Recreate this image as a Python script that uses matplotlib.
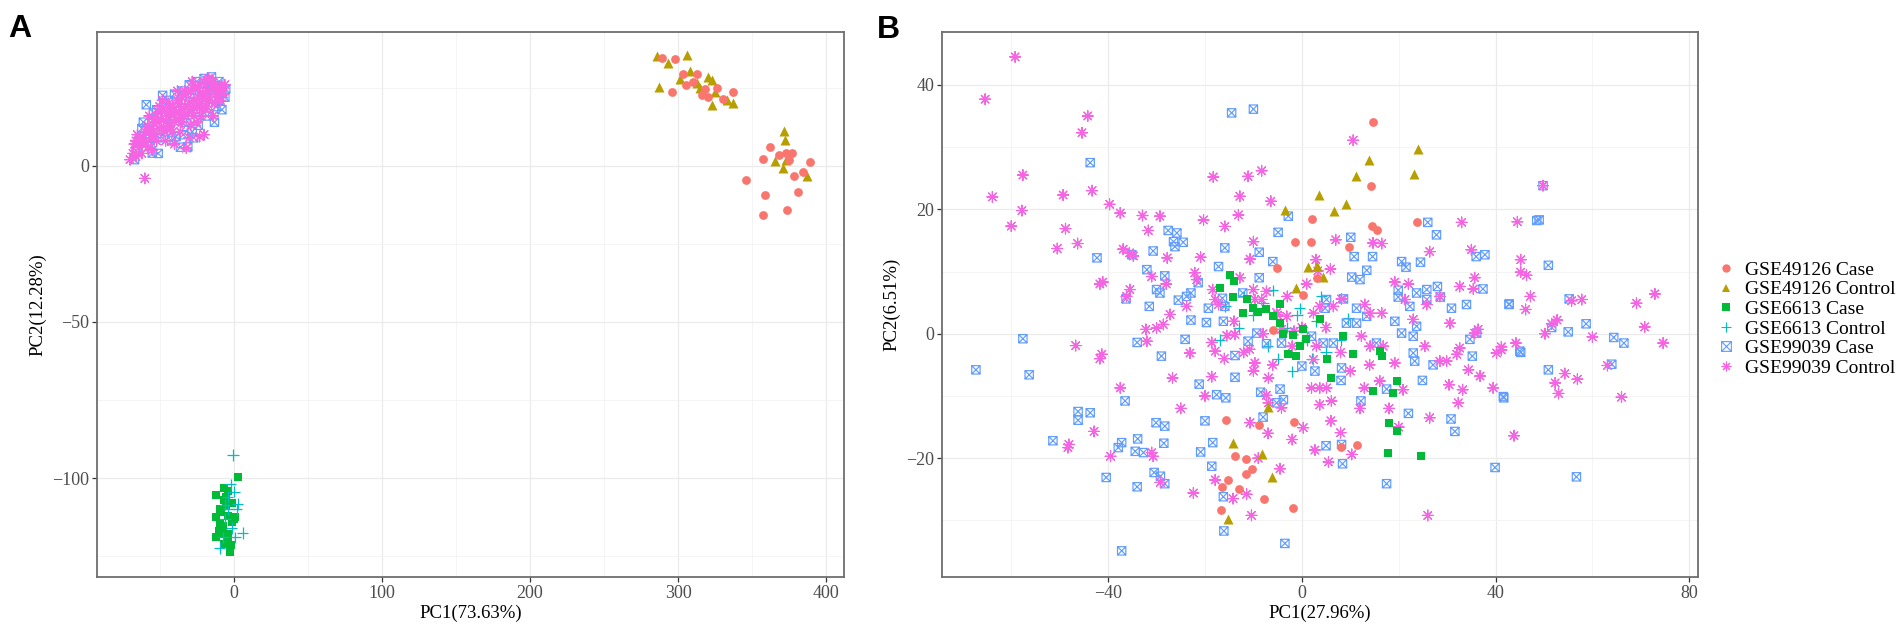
import matplotlib
matplotlib.use("Agg")
import matplotlib.pyplot as plt
from matplotlib.path import Path
from matplotlib.lines import Line2D
from matplotlib.ticker import FixedLocator

groups = ["GSE49126 Case", "GSE49126 Control", "GSE6613 Case",
          "GSE6613 Control", "GSE99039 Case", "GSE99039 Control"]
colors = ["#F8766D", "#B79F00", "#00BA38", "#00BFC4", "#619CFF", "#F564E3"]

# ---------------- Panel A data (PC1 73.63%, PC2 12.28%) ----------------
a_case49126 = [(298, 34.3), (289, 34.6), (303, 29.5), (313, 29.5), (296, 23.7), (305, 26),
               (316, 22.8), (320, 22), (337, 23.7), (326, 25), (362, 6.1), (357.6, 2.2),
               (373, 4.1), (377, 4.1), (375, 2), (389, 1.3), (384, -1.9), (378, -3.2),
               (346, -4.5), (359, -9.3), (381, -8.3), (373.6, -14.1), (357, -15.7),
               (310, 27), (318, 24.5), (330, 21.5), (368, 3.5)]
a_ctrl49126 = [(286, 35.2), (306, 35.6), (293, 33), (287, 25.3), (301, 27.9), (313, 26.6),
               (320, 28.5), (323, 27.6), (323, 19.6), (325, 23.7), (333, 21.2), (337, 20.2),
               (315, 25), (371.6, 11.2), (372, 8.3), (365.5, 1.6), (373, 1.9), (371, -0.6),
               (387, -3.2), (308, 30.5)]
a_case6613 = [(2.8, -99.6), (-11.7, -105.4), (-6.8, -103.2), (-3.6, -104), (-12.2, -112.5),
              (-1.4, -114), (-12.2, -118.8), (-3.6, -120), (-2.2, -123.7), (-7.0, -115.5),
              (-5.4, -109), (0.2, -113), (-9.3, -114.5), (-6.8, -107), (-1.4, -108),
              (-3.6, -118), (-8.5, -111), (1, -112.5), (-10, -117), (-1.5, -121.5),
              (-6.5, -121), (-5, -106), (-9, -110), (-4, -112), (-7, -117.5)]
a_ctrl6613 = [(-0.5, -92.6), (0.5, -104.4), (2.8, -108.3), (6, -117.6), (-9.5, -122.4),
              (-3.6, -110), (-5.9, -113), (-1.4, -116), (-4, -106), (-7, -119),
              (2, -110), (-2, -102), (-6, -108.5), (1, -119)]
a_case99039 = [(-59, 19.6), (-48, 22.6), (-55, 4.1), (-51, 4), (-31, 6.1), (-5.4, 24.6),
               (-39, 9.4), (-56.5, 6.2), (-62, 12), (-52, 18), (-44, 21), (-40, 23),
               (-35, 24), (-30, 26), (-25, 27), (-20, 28), (-15, 28.5), (-10, 27), (-6, 22),
               (-8, 18), (-12, 19), (-18, 16), (-24, 13), (-28, 11), (-34, 10), (-42, 8),
               (-46, 11), (-50, 9), (-58, 10), (-64, 8), (-66, 5), (-61, 14), (-54, 17),
               (-47, 19), (-38, 19), (-30, 22), (-22, 24), (-16, 25), (-10, 21), (-13, 14),
               (-20, 22), (-26, 18), (-33, 14), (-43, 15), (-53, 13), (-67, 2), (-36, 6),
               (-27, 9)]
a_ctrl99039 = [(-70, 2), (-68, 4), (-66, 3), (-67, 7), (-64, 6), (-63, 9), (-62, 4), (-60, 8),
               (-60, 11), (-58, 6), (-58, 13), (-56, 9), (-55, 12), (-54, 15), (-53, 10),
               (-52, 14), (-51, 17), (-50, 12), (-49, 15), (-48, 18), (-47, 11), (-46, 14),
               (-45, 17), (-44, 20), (-43, 13), (-42, 16), (-41, 19), (-40, 14), (-39, 17),
               (-38, 21), (-37, 15), (-36, 18), (-35, 22), (-34, 16), (-33, 19), (-32, 23),
               (-31, 17), (-30, 20), (-29, 24), (-28, 18), (-27, 21), (-26, 25), (-25, 19),
               (-24, 22), (-23, 26), (-22, 20), (-21, 23), (-20, 27), (-19, 21), (-18, 24),
               (-17, 28), (-16, 22), (-15, 25), (-14, 27), (-13, 20), (-12, 23), (-11, 26),
               (-10, 24), (-9, 21), (-8, 25), (-7, 23), (-6, 26), (-60, -4), (-65, 10),
               (-57, 16), (-46, 8), (-36, 11), (-25, 14), (-20, 10), (-14, 16), (-30, 9),
               (-22, 16), (-18, 19), (-40, 7), (-55, 5), (-48, 21), (-38, 24), (-28, 27),
               (-23, 9.4), (-32, 5.7), (-62, 7), (-57, 11), (-52, 8), (-45, 12), (-41, 11),
               (-37, 20), (-33, 24), (-27, 16), (-24, 25), (-19, 18), (-16, 27), (-12, 25),
               (-9, 24), (-66, 8), (-50, 19), (-43, 18), (-35, 14), (-29, 13), (-21, 19)]

# ---------------- Panel B data (PC1 27.96%, PC2 6.51%) ----------------
b_case49126 = [(14.7, 34.1), (14.3, 23.8), (2.0, 18.4), (23.8, 17.9), (14.5, 17.3), (15.6, 16.7),
               (-1.4, 14.7), (1.8, 14.7), (9.8, 14.0), (-5.1, 10.6), (3.2, 9.0), (0.2, 6.3),
               (-5.9, 0.6), (-15.7, -13.8), (-8.8, -14.6), (-1.6, -14.2), (11.3, -17.9),
               (8.0, -18.2), (-13.8, -19.6), (-11.5, -20.2), (-10.2, -21.7), (-11.5, -22.5),
               (-15.2, -23.5), (-16.4, -24.6), (-12.9, -24.9), (-7.8, -26.5), (-16.6, -28.3),
               (-1.9, -28.0)]
b_ctrl49126 = [(24.0, 29.7), (13.9, 28.0), (11.1, 25.4), (23.1, 25.6), (3.5, 22.3), (9.2, 20.8),
               (6.7, 19.7), (-3.5, 19.9), (1.3, 10.7), (3.2, 10.9), (4.3, 9.1), (-1.3, 7.4),
               (-6.9, -11.8), (-14.3, -17.5), (-8.3, -19.4), (-6.2, -23.0), (-15.2, -29.8)]
b_case6613 = [(-14.8, 9.5), (-14.0, 8.4), (-17.0, 7.4), (-14.3, 5.9), (-11.3, 5.6), (-12.2, 3.3),
              (-10.0, 4.1), (-4.5, 4.8), (-6.0, 2.8), (-4.5, 1.7), (-3.8, 0.0), (-1.8, -0.2),
              (0.2, 0.8), (0.8, -0.8), (3.7, 2.4), (8.6, -0.3), (10.5, -3.2), (16.1, -2.7),
              (16.5, -3.5), (-2.8, -3.3), (-1.2, -3.6), (5.1, -4.0), (6.1, -7.1), (14.7, -9.2),
              (19.6, -7.6), (18.9, -9.5), (18.0, -14.3), (19.6, -15.7), (17.8, -19.2),
              (24.7, -19.6), (-9.0, 3.5), (-7.3, 3.9), (-0.4, -2.0)]
b_ctrl6613 = [(-15.8, 4.4), (-0.4, 4.1), (9.6, 2.5), (-3, 1), (-7, -2), (-10, 3), (-5, -4),
              (1, -1), (3, 2), (-12, 6), (-8, 5), (-2, -6), (5, -3), (-13, 1), (-17, -1),
              (-1, 3), (2, -4), (-6, 7), (8, -1), (4, 6)]
b_case99039 = [(-43.7, 27.5), (-42.3, 12.2), (-57.6, -0.8), (-67.3, -5.8), (-56.3, -6.6),
               (-46.2, -12.5), (-46.2, -13.9), (-43.7, -12.7), (-51.4, -17.2),
               (49.8, 23.8), (49.0, 18.3), (50.9, 11.0), (42.8, 4.7), (55.2, 5.6), (58.7, 1.6),
               (55.0, 0.3), (51.6, 1.0), (64.4, -0.6), (66.5, -1.5), (45.2, -3.0), (50.9, -5.8),
               (64.0, -4.9), (41.7, -10.3), (56.7, -23.0),
               (-14.5, 35.5), (-10.0, 36.1), (-2.8, 18.9), (-4.9, 16.3), (10.1, 15.5),
               (-27.6, 16.6), (-25.8, 16.2), (-26.5, 14.8), (-26.2, 14.0), (-24.5, 14.7),
               (-30.7, 13.3), (-35.1, 12.7), (-15.9, 13.8), (-8.8, 13.1), (-6.0, 11.6),
               (10.8, 12.4), (14.6, 12.4), (26.0, 17.9), (27.8, 15.9), (48.5, 18.2),
               (20.6, 11.6), (21.5, 10.7), (24.5, 11.5), (36.0, 12.4), (37.8, 12.7),
               (-17.2, 10.8), (-32.0, 10.3), (-28.3, 9.3), (-30.0, 7.1), (-29.3, 6.55),
               (13.4, 10.2), (10.3, 9.1), (12.0, 8.7), (-8.8, 9.0), (37.4, 7.2), (19.9, 7.0),
               (19.9, 5.9), (23.7, 6.55), (25.8, 7.1), (28.0, 7.6), (28.6, 5.9), (25.8, 5.5),
               (30.9, 4.1), (34.0, 4.7), (42.8, 4.8), (-21.4, 8.2), (-22.9, 6.55), (-23.8, 6.0),
               (-25.5, 5.4), (-31.5, 4.4), (-36.3, 5.6), (-12.2, 6.55), (-16.4, 5.7),
               (-19.3, 4.1), (-15.9, 4.4), (-19.7, 1.8), (-22.9, 2.2), (-16.2, 2.0), (5.1, 5.5),
               (8.6, 5.6), (4.8, 4.1), (11.3, 4.1), (13.4, 2.8), (9.2, 1.7), (11.3, 1.7),
               (22.3, 4.4), (19.2, 2.0), (20.6, 0.1), (23.7, 1.2), (23.0, -0.4), (36.1, 0.1),
               (34.7, -0.9), (35.2, -3.6), (45.0, -2.8), (23.0, -3.1), (23.3, -4.4), (27.1, -5.0),
               (-34.0, -1.4), (-24.1, -0.9), (-29.0, -3.6), (-13.8, -3.5), (-11.1, -1.2),
               (-9.3, 0.1), (-7.3, -1.6), (-4.2, -1.5), (2.0, -0.4), (4.4, -1.5), (6.5, -1.5),
               (15.4, -1.5), (0.0, -5.2), (2.7, -6.0), (8.2, -5.5), (8.1, -7.5), (-13.8, -7.0),
               (-21.2, -8.1), (-17.6, -9.8), (-15.7, -10.3), (-8.5, -9.4), (-4.5, -8.9),
               (-3.8, -10.6), (-5.2, -11.1), (17.5, -8.9), (24.9, -7.5), (12.2, -10.8),
               (22.0, -12.8), (30.8, -13.7), (31.6, -15.7), (41.6, -10.1), (-36.5, -10.8),
               (-30.1, -14.3), (-28.3, -14.85), (-20.0, -14.0), (-8.0, -13.4), (-18.4, -17.5),
               (-28.5, -17.6), (-33.9, -16.9), (-37.2, -17.5), (-37.9, -18.3), (-34.4, -18.9),
               (-32.7, -19.1), (-20.9, -19.0), (5.0, -18.0), (8.2, -17.8), (-18.6, -21.3),
               (-30.5, -22.3), (-29.2, -22.9), (-28.3, -24.1), (-40.4, -23.1), (-34.0, -24.6),
               (-16.2, -26.2), (8.4, -20.9), (17.5, -24.1), (39.9, -21.5), (-16.1, -31.7),
               (-3.5, -33.7), (-37.2, -34.9)]
b_ctrl99039 = [(49.8, 23.8), (44.5, 18.0), (45.2, 11.9), (45.2, 9.9), (46.4, 9.4), (47.2, 6.0),
               (46.2, 3.9), (55.7, 5.3), (57.8, 5.5), (69.1, 4.9), (72.9, 6.4), (70.8, 1.1),
               (74.6, -1.5), (52.7, 2.2), (51.6, 1.6), (50.2, 0.0), (60.0, -0.5), (41.2, -2.6),
               (44.2, -1.5), (54.3, -6.4), (56.9, -7.3), (52.3, -7.9), (53.0, -9.6),
               (63.1, -5.1), (66.0, -10.2), (43.8, -16.4),
               (-59.2, 44.5), (-65.4, 37.7), (-44.2, 35.0), (-45.4, 32.3), (-57.6, 25.5),
               (-63.9, 22.0), (-49.3, 22.3), (-43.3, 23.0), (-57.8, 19.8), (-60.0, 17.3),
               (-48.8, 16.9), (-50.5, 13.7), (-46.3, 14.5), (-41.7, 8.0), (-46.7, -1.9),
               (-41.7, -4.0), (-48.1, -17.8), (-42.9, -15.7), (-48.3, -18.3),
               (-18.3, 25.2), (-11.1, 25.3), (-8.3, 26.2), (-12.8, 22.1), (-6.4, 21.3),
               (-39.7, 20.8), (-37.5, 19.4), (-32.9, 19.0), (-29.3, 18.9), (-20.3, 18.3),
               (-13.1, 19.1), (-15.9, 17.25), (-31.7, 16.6), (-36.9, 13.6), (-35.6, 13.0),
               (-34.8, 12.5), (-27.8, 12.2), (-20.9, 12.3), (-10.7, 12.0), (-10.0, 14.8),
               (2.9, 11.9), (7.0, 15.1), (10.6, 31.1), (14.7, 14.6), (16.5, 14.5), (26.4, 13.2),
               (33.0, 17.9), (35.0, 13.5), (35.7, 9.0), (32.6, 7.6), (35.4, 7.2), (-41.1, 8.3),
               (-35.5, 7.1), (-36.2, 6.0), (-22.1, 9.8), (-21.7, 8.7), (-18.4, 7.1),
               (-12.8, 9.0), (-31.0, 9.2), (-23.8, 4.4), (-27.2, 3.1), (-32.2, 0.7),
               (-30.0, 0.9), (-28.6, 1.5), (-32.0, -1.2), (-17.9, 5.5), (-17.2, 4.7),
               (-15.5, -0.3), (-13.8, -0.1), (-18.6, -1.4), (-17.9, -2.8), (-23.1, -3.1),
               (-41.3, -3.3), (-10.0, 7.1), (-8.3, 5.5), (-7.3, 6.8), (-9.7, 5.5), (-5.2, 3.4),
               (-3.1, 2.8), (-1.6, 0.4), (-4.2, 0.7), (2.4, 3.3), (3.7, 4.4), (6.5, 4.4),
               (5.9, 10.4), (3.3, 10.1), (8.2, 5.6), (13.0, 4.7), (14.1, 3.3), (16.5, 3.3),
               (12.3, -0.4), (14.1, -2.0), (19.2, 8.3), (21.3, 5.5), (23.0, 2.3), (25.8, 4.7),
               (28.5, 6.0), (30.6, 1.7), (25.4, -2.0), (28.5, -4.4), (29.9, -4.4), (32.0, -3.3),
               (32.6, -2.3), (35.7, 0.1), (36.4, 0.7), (36.8, -6.8), (34.4, -5.8), (40.2, -3.1),
               (41.2, -2.1), (19.2, -4.7), (16.8, -2.0), (-10.8, -2.5), (-9.7, -4.7),
               (2.4, -4.15), (3.7, -8.7), (5.1, -8.7), (2.0, -8.7), (6.1, -10.8), (3.7, -11.4),
               (12.9, -8.7), (16.1, -7.6), (20.9, -9.0), (0.3, -15.1), (-10.7, -14.3),
               (-7.3, -9.9), (-6.9, -11.1), (-4.2, -11.9), (-18.6, -6.9), (-26.7, -7.1),
               (-6.9, -7.1), (-37.5, -8.7), (26.4, -13.5), (30.4, -8.2), (33.2, -9.0),
               (32.3, -11.1), (39.5, -8.7), (8.0, -15.9), (10.3, -19.4), (5.5, -20.6),
               (2.7, -18.7), (-4.5, -21.7), (-11.4, -25.8), (-14.2, -26.5), (-17.9, -23.5),
               (-22.4, -25.6), (-10.4, -29.2), (26.0, -29.2), (-39.5, -19.7), (-31.0, -19.1),
               (-30.7, -19.7), (-29.2, -23.9),
               (-5, 3), (-2, -2), (0, 1), (-8, 0), (-12, -3), (-6, -5), (3, -2), (5, 1),
               (-14, 2), (-10, -6), (8, -3), (10, -6), (-3, 6), (1, 8), (-20, -10), (14, -5),
               (-16, -4), (6, -14), (-2, -17), (18, -12), (-25, -12), (-28, 8), (20, -15),
               (12, -12), (-7, -16), (22, 8), (-9, -20)]

panelA = [a_case49126, a_ctrl49126, a_case6613, a_ctrl6613, a_case99039, a_ctrl99039]
panelB = [b_case49126, b_ctrl49126, b_case6613, b_ctrl6613, b_case99039, b_ctrl99039]

# ---------------- markers (ggplot shapes 16, 17, 15, 3, 7, 8) ----------------
sqx = Path([(-1, -1), (1, -1), (1, 1), (-1, 1), (-1, -1), (-1, -1), (1, 1), (-1, 1), (1, -1)],
           [Path.MOVETO, Path.LINETO, Path.LINETO, Path.LINETO, Path.CLOSEPOLY,
            Path.MOVETO, Path.LINETO, Path.MOVETO, Path.LINETO])
# kind: "fill" = solid marker, "line" = stroke-only marker, "open" = outlined path
mstyles = [
    dict(marker="o", s=40, kind="fill"),
    dict(marker="^", s=52, kind="fill"),
    dict(marker="s", s=33, kind="fill"),
    dict(marker="+", s=64, kind="line", lw=0.9),
    dict(marker=sqx, s=36, kind="open", lw=0.85),
    dict(marker=(8, 2, 0), s=60, kind="line", lw=0.85),
]
draw_orderA = [4, 5, 2, 3, 1, 0]
draw_orderB = [3, 4, 5, 2, 1, 0]

plt.rcParams["font.family"] = ["Liberation Serif", "DejaVu Serif"]
fig = plt.figure(figsize=(19.04, 6.25), dpi=100)

W, H = 1904.0, 625.0
axA = fig.add_axes([97 / W, 1 - 577 / H, (844 - 97) / W, 545 / H])
axB = fig.add_axes([942 / W, 1 - 577 / H, (1698 - 942) / W, 545 / H])


def fmt(v):
    return ("\u2212" + str(abs(v))) if v < 0 else str(v)


def style_axes(ax, xmaj, xmin, ymaj, ymin, xlim, ylim, xlabel, ylabel):
    ax.set_xlim(*xlim)
    ax.set_ylim(*ylim)
    ax.xaxis.set_major_locator(FixedLocator(xmaj))
    ax.xaxis.set_minor_locator(FixedLocator(xmin))
    ax.yaxis.set_major_locator(FixedLocator(ymaj))
    ax.yaxis.set_minor_locator(FixedLocator(ymin))
    ax.grid(True, which="major", color="#EBEBEB", lw=0.9, zorder=0)
    ax.grid(True, which="minor", color="#F2F2F2", lw=0.6, zorder=0)
    ax.set_axisbelow(True)
    for sp in ax.spines.values():
        sp.set_color("#6E6E6E")
        sp.set_linewidth(1.3)
    ax.tick_params(which="major", direction="out", length=3.5, width=0.9, color="#333333",
                   labelsize=13, labelcolor="#4D4D4D", pad=2)
    ax.tick_params(which="minor", length=0)
    ax.set_xlabel(xlabel, fontsize=13.5, labelpad=2)
    ax.set_ylabel(ylabel, fontsize=13.5, labelpad=4)
    ax.set_xticklabels([fmt(v) for v in xmaj])
    ax.set_yticklabels([fmt(v) for v in ymaj])


def draw_points(ax, data, order):
    for gi in order:
        pts = data[gi]
        xs = [p[0] for p in pts]
        ys = [p[1] for p in pts]
        st = mstyles[gi]
        if st["kind"] == "fill":
            ax.scatter(xs, ys, marker=st["marker"], s=st["s"], color=colors[gi],
                       linewidths=0, zorder=3)
        elif st["kind"] == "line":
            ax.scatter(xs, ys, marker=st["marker"], s=st["s"], c=[colors[gi]] * len(xs),
                       linewidths=st["lw"], zorder=3)
        else:
            ax.scatter(xs, ys, marker=st["marker"], s=st["s"], facecolors="none",
                       edgecolors=colors[gi], linewidths=st["lw"], zorder=3)


draw_points(axA, panelA, draw_orderA)
style_axes(axA, [0, 100, 200, 300, 400], [-50, 50, 150, 250, 350],
           [0, -50, -100], [25, -25, -75, -125],
           (-92.3, 412), (-131.7, 42.9), "PC1(73.63%)", "PC2(12.28%)")

draw_points(axB, panelB, draw_orderB)
style_axes(axB, [-40, 0, 40, 80], [-60, -20, 20, 60],
           [-20, 0, 20, 40], [-30, -10, 10, 30],
           (-74.3, 81.8), (-39.1, 48.5), "PC1(27.96%)", "PC2(6.51%)")

# panel letters
fig.text(8 / W, 1 - 37 / H, "A", fontsize=23, fontweight="bold",
         family=["Liberation Sans", "DejaVu Sans"], ha="left", va="baseline")
fig.text(877 / W, 1 - 38 / H, "B", fontsize=23, fontweight="bold",
         family=["Liberation Sans", "DejaVu Sans"], ha="left", va="baseline")

# legend
handles = []
for gi in range(6):
    st = mstyles[gi]
    if st["kind"] == "fill":
        h = Line2D([], [], linestyle="none", marker=st["marker"], markersize=6,
                   markerfacecolor=colors[gi], markeredgecolor=colors[gi], markeredgewidth=0)
    else:
        h = Line2D([], [], linestyle="none", marker=st["marker"], markersize=7,
                   markerfacecolor="none", markeredgecolor=colors[gi], markeredgewidth=0.8)
    handles.append(h)
fig.legend(handles, groups, loc="center left", bbox_to_anchor=(1716 / W, 1 - 319 / H),
           frameon=False, fontsize=14, handlelength=1.0, handletextpad=0.5,
           labelspacing=0.1, borderpad=0, borderaxespad=0)

fig.savefig("out.png", dpi=100)
